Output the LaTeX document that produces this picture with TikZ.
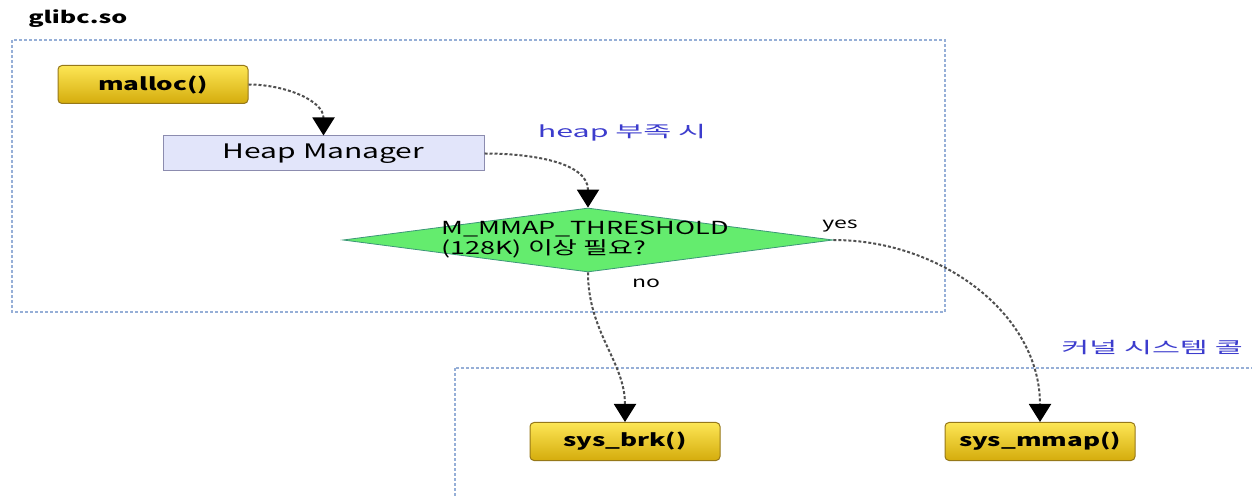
\documentclass[tikz,border=0pt]{standalone}
\usepackage{fontspec}
\setmainfont[FakeStretch=1.5]{Noto Sans CJK KR}
\newfontfamily\widefont[FakeStretch=1.9]{Noto Sans CJK KR}
\usetikzlibrary{shapes.geometric, arrows.meta}

\definecolor{goldtop}{RGB}{253,230,85}
\definecolor{goldbot}{RGB}{212,172,12}
\definecolor{goldline}{RGB}{150,120,25}
\definecolor{mgrfill}{RGB}{226,229,250}
\definecolor{mgrline}{RGB}{140,140,175}
\definecolor{decfill}{RGB}{100,236,110}
\definecolor{decline}{RGB}{60,150,120}
\definecolor{frameline}{RGB}{150,175,215}
\definecolor{notecol}{RGB}{60,60,205}
\definecolor{flowcol}{RGB}{80,80,80}

\tikzset{
  frame/.style={color=frameline, line width=0.9pt, dash pattern=on 2.25pt off 1.5pt},
  callbox/.style={draw=goldline, top color=goldtop, bottom color=goldbot, rounded corners=3pt,
    line width=0.75pt, minimum width=142.5pt, minimum height=28.5pt, inner sep=0pt,
    font=\bfseries\fontsize{13}{15}\selectfont},
  mgrbox/.style={draw=mgrline, fill=mgrfill, line width=0.75pt, minimum width=240.75pt,
    minimum height=26.25pt, inner sep=0pt, font=\fontsize{15}{17}\selectfont},
  decision/.style={diamond, draw=decline, fill=decfill, line width=0.6pt, minimum width=367.5pt,
    minimum height=48pt, inner sep=0pt},
  note/.style={color=notecol, inner sep=0.75pt, font=\widefont\fontsize{12}{14}\selectfont},
  plain/.style={inner sep=0.75pt, font=\fontsize{11.5}{13}\selectfont},
  flow/.style={color=flowcol, line width=1.5pt, dash pattern=on 2.25pt off 1.5pt,
    -{Triangle[width=16.5pt,length=13.5pt,color=black]}},
}

\begin{document}
\begin{tikzpicture}[x=0.75pt,y=-0.75pt]
\useasboundingbox (0,0) rectangle (1252,498);
\clip (0,0) rectangle (1252,498);

%Shape: Rectangle [glibc frame]
\draw [frame] (12,40) rectangle (945,312);
%Shape: Rectangle [kernel frame]
\draw [frame] (455,368) rectangle (1275,520);

% Text Node
\node [anchor=west, inner sep=0pt, font=\bfseries\fontsize{12.5}{14}\selectfont] (libname) at (28,19) {glibc.so};

%Boxes
\node [callbox] (malloc) at (153,84.5) {malloc()};
\node [mgrbox] (heapmgr) at (323.5,153.5) {Heap Manager};
\node [decision] (threshold) at (588,240) {};
\node [align=left, inner sep=0pt, font=\fontsize{13.5}{15}\selectfont] (thrtext) at (585,240) {M\_MMAP\_THRESHOLD\\(128K) 이상 필요?};
\node [callbox] (brk) at (625,441.5) {sys\_brk()};
\node [callbox] (mmap) at (1040,441.5) {sys\_mmap()};

% Text Node
\node [note] (heaplow) at (622,133) {heap 부족 시};
% Text Node
\node [plain] (yes) at (840,226) {yes};
% Text Node
\node [plain] (no) at (646,283) {no};
% Text Node
\node [note] (kernel) at (1152,348) {커널 시스템 콜};

%Connectors
\draw [flow] (malloc.east) to[out=0,in=90] (heapmgr.north);
\draw [flow] (heapmgr.east) to[out=0,in=90] (threshold.north);
\draw [flow] (threshold.south) to[out=-90,in=90] (brk.north);
\draw [flow] (threshold.east) to[out=0,in=90] (mmap.north);

\end{tikzpicture}
\end{document}
